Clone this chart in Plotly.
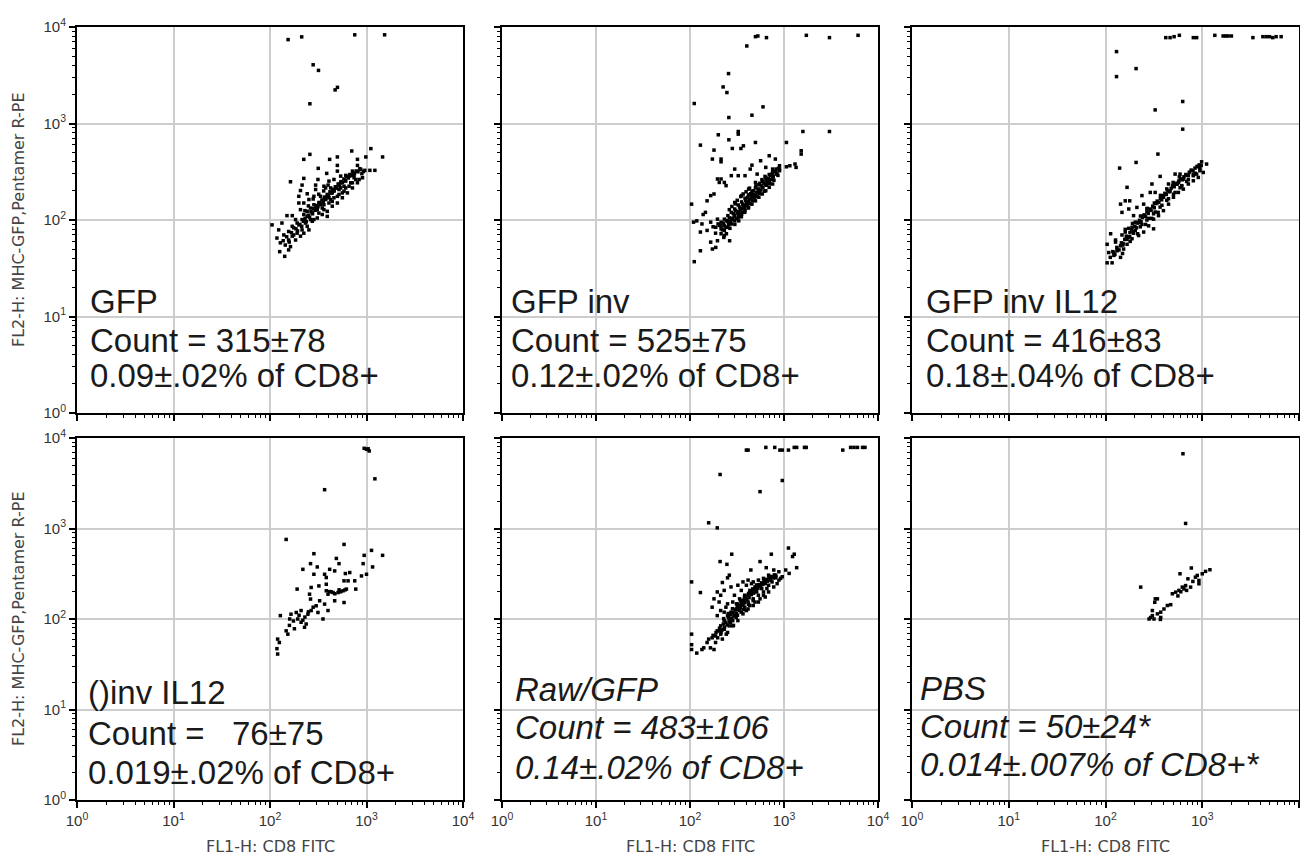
import plotly.graph_objects as go

# ---------------- data (FL1-H CD8 FITC, FL2-H pentamer R-PE) ----------------
gfp_pts = [
    (154, 7400), (213, 7900), (755, 8300), (1540, 8300), (280, 4060), (318, 3550), (500, 2370), (473, 2230), (259, 1600),
    (1109, 549), (1468, 450), (703, 519), (984, 450), (806, 425), (499, 450), (415, 425), (259, 479), (224, 425),
    (316, 343), (387, 304), (499, 368), (499, 321), (715, 321), (806, 368), (873, 334), (961, 327), (1084, 327),
    (1221, 327), (163, 249), (224, 270), (314, 263), (215, 230), (207, 202), (243, 187), (199, 176), (297, 230),
    (297, 207), (362, 224), (408, 253), (460, 263), (540, 285), (609, 290), (744, 274), (839, 263), (687, 243),
    (585, 224), (519, 207), (442, 191), (392, 176), (362, 163), (321, 150), (285, 144), (263, 133), (243, 123),
    (224, 114), (199, 150), (207, 128), (170, 111), (150, 111), (184, 101), (199, 89), (176, 83), (156, 76),
    (139, 70), (133, 93), (123, 79), (105, 89), (118, 65), (128, 58), (144, 55), (156, 62), (170, 68), (191, 73),
    (215, 79), (243, 86), (274, 97), (309, 105), (348, 114), (392, 123), (442, 139), (499, 150), (562, 170),
    (634, 191), (715, 215), (806, 243), (909, 274), (460, 170), (408, 150), (348, 133), (309, 128), (263, 101),
    (233, 93), (207, 68), (184, 62), (163, 53), (126, 47), (142, 42), (156, 49), (377, 215), (425, 215), (519, 233),
    (609, 253), (660, 285), (744, 297), (562, 191), (499, 176), (334, 176), (285, 176), (253, 163), (224, 150),
    (540, 243), (362, 144), (408, 170), (460, 199), (519, 184), (585, 199), (660, 224), (715, 243), (774, 263),
    (609, 215), (540, 215), (479, 215), (425, 163), (377, 163), (334, 144), (297, 133), (274, 118), (243, 109),
    (215, 101), (191, 93), (170, 86), (321, 118), (362, 128), (285, 101), (253, 79), (224, 73), (392, 109), (442, 156),
    (137, 61), (149, 67), (158, 59), (167, 74), (176, 70), (186, 81), (193, 77), (204, 90), (213, 86), (222, 97),
    (231, 104), (238, 96), (249, 112), (257, 107), (266, 122), (276, 116), (284, 131), (293, 126), (303, 141),
    (314, 137), (324, 152), (333, 147), (345, 161), (356, 156), (368, 173), (379, 167), (392, 184), (404, 179),
    (418, 196), (431, 190), (447, 208), (461, 203), (476, 221), (492, 214), (508, 236), (526, 229), (544, 250),
    (563, 244), (583, 266), (603, 258), (626, 281), (648, 272), (671, 296), (696, 288), (722, 311), (751, 304),
    (783, 322), (816, 316), (853, 340), (895, 302), (930, 318), (280, 165), (320, 185), (360, 200), (400, 230),
    (250, 140), (230, 125),
]

gfp_inv_pts = [
    (497, 7940), (527, 8070), (651, 7760), (402, 6360), (1729, 8200), (3045, 7760), (6135, 8200), (257, 3290),
    (225, 2393), (247, 2093), (111, 1611), (598, 1487), (456, 1219), (259, 1153),
    (1589, 826), (3045, 826), (200, 764), (326, 826), (326, 776), (259, 678), (129, 597), (370, 587), (348, 551),
    (282, 551), (497, 636), (1061, 636), (180, 530), (173, 428), (214, 428), (214, 401), (1524, 522), (1524, 482),
    (696, 463), (809, 428), (564, 411), (456, 370), (640, 351), (757, 337), (896, 337), (1061, 356), (1154, 365),
    (1310, 380), (1344, 351), (299, 337), (437, 337), (518, 299), (385, 288), (326, 288), (275, 288), (196, 266),
    (214, 266), (232, 245), (205, 245), (242, 227), (166, 179), (180, 186), (152, 158), (104, 146), (146, 120),
    (138, 114), (118, 98), (109, 95), (134, 91), (166, 95), (196, 102), (214, 87), (188, 84), (129, 75), (152, 78),
    (232, 69), (196, 61), (264, 61), (166, 59), (188, 52), (173, 50), (129, 48), (111, 37),
    (214, 81), (214, 95), (214, 72), (232, 87), (232, 102), (232, 78), (253, 96), (253, 111), (253, 84),
    (275, 104), (275, 120), (275, 91), (299, 112), (299, 130), (299, 98), (299, 152), (326, 122), (326, 143),
    (326, 107), (354, 132), (354, 154), (354, 115), (354, 179), (385, 143), (385, 168), (385, 125), (420, 154),
    (420, 182), (420, 135), (420, 209), (456, 169), (456, 197), (456, 146), (497, 183), (497, 215), (497, 158),
    (497, 245), (540, 197), (540, 232), (540, 172), (588, 216), (588, 252), (588, 186), (640, 234), (640, 274),
    (640, 201), (696, 253), (696, 296), (696, 218), (757, 276), (757, 316), (757, 236), (824, 299), (824, 337),
    (896, 324), (896, 365),
    (205, 88), (221, 79), (228, 93), (241, 84), (246, 99), (258, 90), (263, 105), (270, 97), (284, 101), (289, 117),
    (295, 108), (306, 125), (312, 103), (318, 118), (331, 114), (337, 136), (342, 127), (358, 121), (363, 146),
    (371, 138), (379, 131), (392, 160), (398, 149), (405, 141), (411, 172), (426, 163), (433, 148), (441, 187),
    (448, 176), (462, 158), (470, 201), (476, 184), (489, 171), (502, 226), (509, 194), (517, 177), (531, 210),
    (548, 188), (553, 240), (566, 204), (574, 226), (583, 262), (597, 219), (611, 241), (619, 199), (628, 283),
    (643, 257), (652, 229), (668, 246), (684, 270), (702, 238), (718, 289), (731, 262), (749, 300), (768, 281),
    (782, 258), (805, 318), (841, 307), (873, 343), (862, 290), (279, 138), (262, 128), (304, 147), (318, 160),
    (347, 175), (368, 186), (395, 196), (430, 214), (352, 108), (382, 120), (415, 133), (244, 72), (266, 82),
    (229, 66), (187, 73), (199, 91), (176, 85), (300, 90), (330, 98),
]

gfp_inv_il12_pts = [
    (420, 7760), (465, 7760), (512, 7940), (580, 8200), (809, 7760), (875, 7760), (1349, 8200), (1643, 8070),
    (1750, 8070), (1850, 8070), (2001, 8070), (3339, 7760), (4234, 7940), (4580, 7940), (4953, 7940), (5357, 7760),
    (5800, 7940), (6535, 7940),
    (130, 5560), (130, 3062), (207, 3706), (326, 1383), (628, 1690), (628, 873), (348, 482), (207, 395), (140, 345),
    (985, 401), (1108, 380), (910, 356), (946, 324), (1024, 311), (875, 299), (809, 288), (718, 288), (638, 266),
    (590, 299), (524, 299), (567, 245), (613, 227), (504, 227), (448, 236), (367, 283), (302, 236), (290, 193),
    (326, 193), (397, 179), (238, 179), (167, 218), (160, 158), (178, 158), (143, 146), (148, 120), (174, 130),
    (195, 111), (211, 135), (248, 146), (268, 130), (229, 95), (203, 95), (188, 84), (113, 72), (160, 75),
    (314, 81), (127, 59), (104, 56), (108, 46), (122, 43), (143, 41), (104, 36), (117, 36), (132, 50), (154, 50),
    (167, 56), (188, 64), (220, 69), (248, 75), (279, 87), (314, 102), (353, 111), (397, 125), (448, 146),
    (504, 172), (567, 193), (638, 209), (718, 236), (809, 255), (910, 276),
    (122, 46), (143, 54), (167, 63), (195, 73), (229, 85), (268, 100), (314, 116), (367, 136), (430, 160),
    (504, 185), (590, 216), (690, 251), (809, 294), (946, 342),
    (132, 48), (152, 57), (178, 67), (203, 78), (238, 90), (279, 104), (326, 121), (383, 142), (448, 166),
    (524, 193), (613, 226), (718, 262), (846, 305),
    (127, 62), (148, 70), (174, 82), (211, 94), (248, 110), (290, 127), (340, 150), (397, 172), (465, 200),
    (540, 235), (638, 270),
    (112, 41), (119, 47), (125, 44), (131, 52), (138, 49), (146, 58), (151, 55), (158, 63), (164, 68), (172, 66),
    (179, 74), (186, 79), (193, 76), (201, 86), (209, 83), (216, 93), (224, 99), (233, 96), (241, 106), (251, 113),
    (259, 109), (268, 121), (277, 117), (287, 130), (296, 126), (308, 139), (319, 134), (331, 148), (342, 157),
    (356, 153), (369, 167), (381, 162), (396, 178), (411, 189), (425, 184), (442, 200), (458, 196), (477, 213),
    (494, 226), (513, 221), (533, 240), (552, 236), (574, 254), (597, 266), (622, 261), (648, 281), (676, 296),
    (703, 291), (735, 313), (768, 329), (803, 322), (842, 345), (883, 360), (930, 372), (975, 368), (160, 80),
    (190, 92), (230, 110), (270, 132), (320, 150), (370, 180), (430, 210), (500, 245), (580, 280), (150, 45),
    (180, 60), (215, 72), (260, 90), (300, 104), (350, 120),
]

inv_il12_pts = [
    (946, 7690), (1000, 7500), (1066, 7190), (1040, 7600),
    (1222, 3540), (368, 2685), (147, 757), (585, 667), (285, 527), (1127, 573), (1468, 505), (946, 505),
    (487, 467), (519, 409), (263, 409), (309, 376), (219, 354), (415, 354), (923, 409), (1156, 376), (285, 312),
    (368, 312), (604, 318), (670, 326), (887, 299), (1000, 312), (755, 264), (644, 264), (585, 264), (383, 287),
    (191, 214), (267, 223), (321, 232), (383, 242), (450, 196), (507, 196), (571, 205), (619, 214), (774, 214),
    (399, 188), (415, 201), (257, 188), (263, 166), (327, 159), (585, 152), (468, 159), (368, 146), (301, 140),
    (267, 124), (247, 113), (210, 124), (187, 118), (165, 113), (194, 100), (219, 97), (237, 88), (210, 92),
    (314, 118), (354, 100), (399, 124), (128, 109), (159, 85), (179, 78), (147, 74), (153, 68), (120, 60),
    (125, 55), (118, 47), (120, 41), (228, 81), (383, 205), (468, 340),
    (430, 200), (470, 190), (540, 200), (600, 210), (520, 210), (200, 110), (230, 105), (175, 95), (160, 100),
    (250, 120), (280, 135),
]

raw_gfp_pts = [
    (398, 7350), (415, 7350), (641, 7870), (797, 7870), (904, 7350), (959, 7350), (1115, 7350), (1285, 7870),
    (1364, 7870), (1652, 7870), (1723, 7870), (4220, 7350), (5115, 7870), (5560, 7870), (6050, 7870),
    (6860, 7870), (7270, 7870),
    (209, 3950), (959, 3390), (556, 2553), (158, 1156), (195, 1016),
    (1115, 608), (1285, 520), (1233, 490), (278, 520), (733, 520), (209, 431), (247, 402), (556, 431),
    (1364, 369), (647, 369),
    (444, 348), (262, 305), (251, 285), (778, 348), (882, 333), (1043, 348), (1134, 319), (959, 293), (811, 285),
    (686, 305), (605, 281), (534, 269), (471, 257), (415, 269), (366, 257), (323, 236), (273, 226), (221, 253),
    (231, 207), (195, 199), (212, 183), (104, 257), (129, 196), (180, 167), (204, 154), (172, 135), (251, 147),
    (297, 183), (337, 167), (382, 183), (433, 207), (491, 226), (556, 236), (631, 246), (715, 269), (811, 305),
    (920, 281), (273, 119), (310, 129), (366, 141), (415, 154), (471, 167), (534, 183), (605, 199), (658, 217),
    (251, 109), (231, 96), (212, 84), (204, 74), (187, 65), (172, 62), (158, 60), (152, 55), (140, 48), (134, 46),
    (104, 68), (104, 52), (104, 46), (118, 42), (195, 109), (212, 124), (241, 135), (285, 154), (323, 147),
    (351, 207), (398, 236), (451, 246), (512, 199), (580, 217), (686, 236), (746, 257), (882, 269), (180, 46),
    (165, 48), (187, 55), (221, 60), (251, 71), (285, 84), (323, 96), (366, 114), (415, 129), (471, 141),
    (534, 154), (631, 175), (231, 119), (262, 100), (297, 109), (337, 124), (382, 135),
    (195, 74), (212, 68), (231, 77), (262, 84), (285, 96), (310, 104), (351, 119), (398, 124), (433, 141),
    (491, 154), (556, 167), (605, 183), (686, 199), (778, 226), (845, 246),
    (176, 66), (189, 71), (197, 62), (206, 79), (214, 71), (226, 88), (233, 81), (241, 92), (248, 86), (256, 103),
    (263, 93), (271, 111), (279, 101), (287, 118), (294, 108), (303, 126), (311, 116), (318, 137), (327, 128),
    (336, 141), (344, 133), (353, 152), (361, 144), (372, 162), (381, 151), (392, 171), (403, 163), (414, 183),
    (425, 172), (437, 195), (449, 186), (462, 204), (475, 193), (488, 216), (503, 207), (518, 229), (529, 218),
    (546, 240), (561, 230), (577, 251), (593, 241), (612, 263), (629, 252), (648, 274), (668, 262), (691, 286),
    (712, 275), (738, 295), (762, 284), (790, 307), (821, 296), (228, 101), (255, 115), (283, 130), (312, 147),
    (345, 160), (380, 175), (420, 192), (465, 215), (510, 238), (220, 76), (270, 92), (320, 110), (370, 127),
    (420, 145), (470, 160), (243, 68), (290, 85),
]

pbs_pts = [
    (632, 6700), (673, 1137), (231, 225), (771, 366), (589, 316), (888, 303), (1000, 316), (1082, 336), (1200, 350),
    (711, 278), (924, 267), (924, 245), (673, 234), (647, 215), (622, 225), (689, 207), (758, 225), (574, 207),
    (531, 198), (491, 190), (344, 167), (323, 153), (472, 144), (436, 141), (402, 129), (372, 119), (344, 114),
    (305, 109), (293, 104), (372, 104), (317, 100), (282, 100), (369, 99), (327, 167), (305, 124), (800, 260),
    (850, 290), (560, 180), (600, 200),
]

labels_gfp = ["GFP", "Count = 315±78", "0.09±.02% of CD8+"]
labels_gfp_inv = ["GFP inv", "Count = 525±75", "0.12±.02% of CD8+"]
labels_gfp_inv_il12 = ["GFP inv IL12", "Count = 416±83", "0.18±.04% of CD8+"]
labels_inv_il12 = ["()inv IL12", "Count =   76±75", "0.019±.02% of CD8+"]
labels_raw_gfp = ["Raw/GFP", "Count = 483±106", "0.14±.02% of CD8+"]
labels_pbs = ["PBS", "Count = 50±24*", "0.014±.007% of CD8+*"]

tick_values = [1, 10, 100, 1000, 10000]
tick_labels = ["10<sup>0</sup>", "10<sup>1</sup>", "10<sup>2</sup>", "10<sup>3</sup>", "10<sup>4</sup>"]
x_title = "FL1-H: CD8 FITC"
y_title = "FL2-H: MHC-GFP,Pentamer R-PE"

# ---------------- layout geometry ----------------
# the page body has an 8 px margin, so the figure is drawn from (8, 8) on screen
OFF = 8
W, H = 1308 - OFF, 856 - OFF
col_px = [(77, 463), (502, 878), (912, 1299)]   # screen pixels
row_px = [(27, 413), (438, 800)]
text_pos = [
    (0.028, [0.288, 0.189, 0.098]),
    (0.019, [0.288, 0.189, 0.098]),
    (0.031, [0.288, 0.189, 0.096]),
    (0.023, [0.296, 0.185, 0.077]),
    (0.029, [0.304, 0.199, 0.091]),
    (0.016, [0.309, 0.202, 0.097]),
]


def fx(px):
    return (px - OFF) / W


def fy(py):
    return 1 - (py - OFF) / H


panels = [
    (gfp_pts, labels_gfp, False),
    (gfp_inv_pts, labels_gfp_inv, False),
    (gfp_inv_il12_pts, labels_gfp_inv_il12, False),
    (inv_il12_pts, labels_inv_il12, False),
    (raw_gfp_pts, labels_raw_gfp, True),
    (pbs_pts, labels_pbs, True),
]

minor_vals = [m * 10 ** k for k in range(4) for m in range(2, 10)]

fig = go.Figure()
annotations = []
for i, (pts, lines, italic) in enumerate(panels):
    r, c = divmod(i, 3)
    ax = "" if i == 0 else str(i + 1)
    xs = [p[0] for p in pts]
    ys = [p[1] for p in pts]
    fig.add_trace(go.Scatter(
        x=xs, y=ys, mode="markers",
        marker=dict(symbol="square", size=3.5, color="black", line=dict(width=0)),
        xaxis="x" + ax, yaxis="y" + ax, showlegend=False, hoverinfo="skip"))
    xd = [fx(col_px[c][0]), fx(col_px[c][1])]
    yd = [fy(row_px[r][1]), fy(row_px[r][0])]
    common = dict(
        type="log", range=[0, 4], showgrid=True, gridcolor="#cdcdcd", gridwidth=2,
        zeroline=False, showline=True, linecolor="black", linewidth=2, mirror=True,
        ticks="outside", ticklen=6, tickwidth=1.5, tickcolor="black",
        tickmode="array", tickvals=tick_values, ticktext=tick_labels,
        tickfont=dict(family="Liberation Sans", size=15, color="#333333"),
        minor=dict(tickmode="array", tickvals=minor_vals, ticks="outside", ticklen=3,
                   tickwidth=1, tickcolor="black", showgrid=False),
        fixedrange=True, automargin=False,
    )
    fig.layout["xaxis" + ax] = dict(common, domain=xd, anchor="y" + ax, showticklabels=(r == 1))
    fig.layout["yaxis" + ax] = dict(common, domain=yd, anchor="x" + ax, showticklabels=(c == 0))

    xoff, ylines = text_pos[i]
    for txt, yf in zip(lines, ylines):
        annotations.append(dict(
            text=("<i>%s</i>" % txt) if italic else txt,
            xref="x%s domain" % ax, yref="y%s domain" % ax,
            x=xoff, y=yf, xanchor="left", yanchor="middle", showarrow=False,
            font=dict(family="Liberation Sans", size=33, color="#1a1a1a")))

    if r == 1:
        annotations.append(dict(
            text=x_title, xref="paper", yref="paper",
            x=fx((col_px[c][0] + col_px[c][1]) / 2), y=fy(846),
            xanchor="center", yanchor="middle", showarrow=False,
            font=dict(family="DejaVu Sans", size=16, color="#444444")))
    if c == 0:
        annotations.append(dict(
            text=y_title, xref="paper", yref="paper", textangle=-90,
            x=fx(18), y=fy((row_px[r][0] + row_px[r][1]) / 2),
            xanchor="center", yanchor="middle", showarrow=False,
            font=dict(family="DejaVu Sans", size=16, color="#444444")))

fig.update_layout(
    width=W, height=H, margin=dict(l=0, r=0, t=0, b=0, pad=0, autoexpand=False),
    paper_bgcolor="white", plot_bgcolor="white",
    annotations=annotations, showlegend=False,
)

fig.write_html("out.html")
